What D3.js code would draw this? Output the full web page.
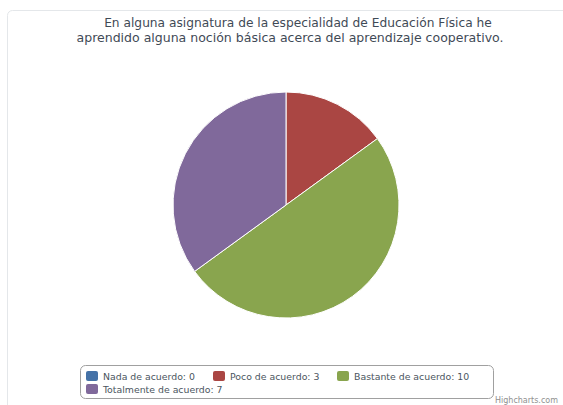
<!DOCTYPE html>
<html>
<head>
<meta charset="utf-8">
<script src="https://cdn.jsdelivr.net/npm/d3@7"></script>
<style>
  html, body { margin: 0; padding: 0; background: #ffffff; }
  svg { display: block; }
  text { font-family: "DejaVu Sans", "Noto Sans", sans-serif; }
</style>
</head>
<body>
<svg id="chart" width="563" height="405"></svg>
<script>
// Survey answers for the pie
const categories = ["Nada de acuerdo", "Poco de acuerdo", "Bastante de acuerdo", "Totalmente de acuerdo"];
const values = [0, 3, 10, 7];
const colors = ["#4572A7", "#AA4643", "#89A54E", "#80699B"];
const titleLines = [
  "En alguna asignatura de la especialidad de Educación Física he",
  "aprendido alguna noción básica acerca del aprendizaje cooperativo."
];
const creditText = "Highcharts.com";

const svg = d3.select("#chart");

// Fit a text element's font size so that it spans a given width
function fitWidth(sel, target, startSize) {
  sel.attr("font-size", startSize);
  const w = sel.node().getComputedTextLength();
  sel.attr("font-size", (startSize * target / w).toFixed(2));
}

// Outer frame of the chart area
svg.append("rect")
  .attr("x", 7.5).attr("y", 10.5)
  .attr("width", 600).attr("height", 450)
  .attr("rx", 5)
  .attr("fill", "#ffffff")
  .attr("stroke", "#e4e7ea")
  .attr("stroke-width", 1);

// Title (two lines, centred)
const titleSpec = [
  { cx: 298, y: 27, w: 388 },
  { cx: 290, y: 42, w: 427 }
];
titleLines.forEach((line, i) => {
  const t = svg.append("text")
    .attr("x", titleSpec[i].cx)
    .attr("y", titleSpec[i].y)
    .attr("text-anchor", "middle")
    .attr("fill", "#3f4a56")
    .text(line);
  fitWidth(t, titleSpec[i].w, 13);
});

// Pie
const cx = 286, cy = 205, r = 113;
const pie = d3.pie().sort(null).value(d => d.value).startAngle(0).endAngle(2 * Math.PI);
const arc = d3.arc().innerRadius(0).outerRadius(r);
const data = categories.map((c, i) => ({ name: c, value: values[i], color: colors[i] }));

svg.append("g")
  .attr("transform", `translate(${cx},${cy})`)
  .selectAll("path")
  .data(pie(data).filter(d => d.data.value > 0))
  .join("path")
  .attr("d", arc)
  .attr("fill", d => d.data.color)
  .attr("stroke", "#ffffff")
  .attr("stroke-width", 1)
  .attr("stroke-linejoin", "round");

// Legend
const legend = svg.append("g");
legend.append("rect")
  .attr("x", 80.5).attr("y", 365.5)
  .attr("width", 413).attr("height", 33)
  .attr("rx", 5)
  .attr("fill", "#ffffff")
  .attr("stroke", "#a0a0a0")
  .attr("stroke-width", 1);

const itemPos = [
  { x: 86, y: 371 },
  { x: 213, y: 371 },
  { x: 337, y: 371 },
  { x: 86, y: 384 }
];
data.forEach((d, i) => {
  const p = itemPos[i];
  legend.append("rect")
    .attr("x", p.x).attr("y", p.y)
    .attr("width", 12).attr("height", 10)
    .attr("rx", 2)
    .attr("fill", d.color);
  const t = legend.append("text")
    .attr("x", p.x + 17)
    .attr("y", p.y + 9)
    .attr("fill", "#4b5560")
    .attr("font-size", 11)
    .text(`${d.name}: ${d.value}`);
  if (i === 0) fitWidth(t, 92, 11);
});
// Share the fitted size across all legend labels
const legendSize = legend.select("text").attr("font-size");
legend.selectAll("text").attr("font-size", legendSize);

// Credit
svg.append("text")
  .attr("x", 558).attr("y", 403)
  .attr("text-anchor", "end")
  .attr("fill", "#909090")
  .attr("font-size", 8)
  .text(creditText);
</script>
</body>
</html>
